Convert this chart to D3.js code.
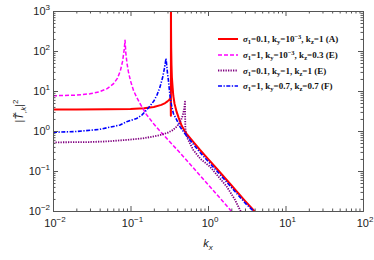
<!DOCTYPE html>
<html><head><meta charset="utf-8">
<script src="https://cdn.jsdelivr.net/npm/d3@7"></script>
<style>body{margin:0;background:#fff}svg{display:block}</style>
</head><body>
<svg id="c" width="374" height="260"></svg>
<script>
// ---- data ----
const xMajorExp = [-2, -1, 0, 1, 2];
const yMajorExp = [-2, -1, 0, 1, 2, 3];
const seriesNames = ["A", "E1", "E2", "F"];
const seriesColors = ["#ff0000", "#ff00ff", "#800080", "#0000ff"];
const legendParts = [
  ["0.1", "10", "−3", "1", "(A)"],
  ["1", "10", "−3", "0.3", "(E)"],
  ["0.1", "1", "", "1", "(E)"],
  ["1", "0.7", "", "0.7", "(F)"]
];
const seriesA = [[0.01,3.45],[0.02,3.45],[0.05,3.5],[0.1,3.55],[0.15,3.7],[0.2,4.0],[0.25,4.5],[0.28,5.0],[0.3,5.5],[0.315,6.0],[0.325,6.5],[0.33,6.8],[0.3318,2.4],[0.3322,2.4],[0.3324,3000],[0.3328,3000],[0.3335,400],[0.335,120],[0.338,45],[0.342,22],[0.35,12],[0.357,7.5],[0.37,4.8],[0.394,3.0],[0.42,2.1],[0.458,1.35],[0.5,1.0],[0.53,0.85],[0.65,0.53],[0.79,0.335],[1.0,0.2],[1.3,0.114],[2.0,0.044],[3.0,0.018],[3.85,0.0106],[5,0.006]];
const seriesE1 = [[0.01,7.6],[0.02,7.9],[0.03,8.5],[0.04,9.6],[0.05,11.5],[0.06,15],[0.068,21],[0.074,32],[0.079,55],[0.083,110],[0.085,185],[0.087,90],[0.09,50],[0.094,30],[0.1,18],[0.11,10],[0.12,7],[0.133,4.8],[0.16,2.6],[0.2,1.5],[0.24,1.0],[0.3,0.62],[0.4,0.34],[0.5,0.21],[0.646,0.12],[0.8,0.075],[1.0,0.046],[1.4,0.022],[1.95,0.0105],[2.5,0.006]];
const seriesE2 = [[0.01,0.52],[0.03,0.53],[0.05,0.55],[0.09,0.6],[0.15,0.66],[0.24,0.79],[0.3,0.9],[0.35,1.05],[0.394,1.28],[0.43,1.6],[0.46,2.1],[0.48,2.8],[0.495,3.8],[0.505,5.4],[0.507,2.5],[0.51,1.2],[0.52,0.85],[0.55,0.62],[0.646,0.335],[0.8,0.2],[1.06,0.129],[1.4,0.068],[1.74,0.041],[2.2,0.02],[2.59,0.0106],[3.2,0.005]];
const seriesF = [[0.01,0.93],[0.02,0.97],[0.033,1.06],[0.04,1.1],[0.0733,1.41],[0.0893,1.71],[0.12,2.05],[0.14,2.5],[0.16,3.3],[0.18,4.3],[0.2,5.6],[0.22,8],[0.24,12.5],[0.26,22],[0.275,38],[0.287,65],[0.293,45],[0.3,28],[0.308,18.8],[0.324,7.2],[0.34,4.2],[0.357,2.77],[0.4,1.8],[0.435,1.28],[0.53,0.75],[0.65,0.46],[0.79,0.29],[1.0,0.175],[1.3,0.1],[2.0,0.039],[3.0,0.016],[3.75,0.0105],[5,0.006]];
const allSeries = [seriesA, seriesE1, seriesE2, seriesF];

// ---- layout ----
const L = 53, R = 363, T = 11, B = 211;
const svg = d3.select("#c");
const x = d3.scaleLog().domain([0.01, 100]).range([L, R]);
const y = d3.scaleLog().domain([0.01, 1000]).range([B, T]);

svg.append("defs").append("clipPath").attr("id", "clip")
  .append("rect").attr("x", L).attr("y", T).attr("width", R - L).attr("height", B - T);

const dashes = [null, "4,2", "1.3,1.2", "4,1.5,1.3,1.5"];
const widths = [2, 1.5, 1.8, 1.6];
const line = d3.line().x(d => x(d[0])).y(d => y(d[1]));
const g = svg.append("g").attr("clip-path", "url(#clip)");
allSeries.forEach((s, i) => {
  g.append("path").datum(s).attr("d", line).attr("fill", "none")
    .attr("stroke", seriesColors[i]).attr("stroke-width", widths[i])
    .attr("stroke-dasharray", dashes[i]).attr("stroke-linejoin", "round");
});

// ---- axes ----
const axisColor = "#555";
const xMajor = xMajorExp.map(e => Math.pow(10, e));
const yMajor = yMajorExp.map(e => Math.pow(10, e));
const xMinor = x.ticks().filter(v => !xMajor.some(m => Math.abs(m - v) / m < 1e-6));
const yMinor = y.ticks().filter(v => !yMajor.some(m => Math.abs(m - v) / m < 1e-6));

function drawAxis(axisGen, transform, major, minor) {
  const a = svg.append("g").attr("transform", transform);
  a.call(axisGen.tickValues(major).tickSizeInner(-5).tickSizeOuter(0).tickFormat(""));
  const b = svg.append("g").attr("transform", transform);
  b.call(axisGen.tickValues(minor).tickSizeInner(-2.5).tickSizeOuter(0).tickFormat(""));
  [a, b].forEach(s => { s.selectAll("path,line").attr("stroke", axisColor); s.select(".domain").attr("stroke-width", 1); });
}
drawAxis(d3.axisBottom(x), `translate(0,${B})`, xMajor, xMinor);
drawAxis(d3.axisTop(x), `translate(0,${T})`, xMajor, xMinor);
drawAxis(d3.axisLeft(y), `translate(${L},0)`, yMajor, yMinor);
drawAxis(d3.axisRight(y), `translate(${R},0)`, yMajor, yMinor);

const fontSans = "'Liberation Sans', Arial, sans-serif";
xMajorExp.forEach(e => {
  const t = svg.append("text").attr("x", x(Math.pow(10, e)) + 2).attr("y", 227)
    .attr("text-anchor", "middle").attr("font-family", fontSans).attr("font-size", 11).attr("fill", "#222");
  t.append("tspan").text("10");
  t.append("tspan").attr("dy", -5).attr("font-size", 8).text(e < 0 ? "−" + (-e) : String(e));
});
yMajorExp.forEach(e => {
  const t = svg.append("text").attr("x", 50).attr("y", y(Math.pow(10, e)) + 4)
    .attr("text-anchor", "end").attr("font-family", fontSans).attr("font-size", 11).attr("fill", "#222");
  t.append("tspan").text("10");
  t.append("tspan").attr("dy", -5).attr("font-size", 8).text(e < 0 ? "−" + (-e) : String(e));
});

// axis titles
const xt = svg.append("text").attr("x", (L + R) / 2).attr("y", 247).attr("text-anchor", "middle")
  .attr("font-family", fontSans).attr("font-size", 11).attr("font-style", "italic").attr("fill", "#222");
xt.append("tspan").text("k");
xt.append("tspan").attr("dy", 3).attr("font-size", 8).text("x");

const yt = svg.append("text").attr("transform", `translate(23,${(T + B) / 2}) rotate(-90)`)
  .attr("text-anchor", "middle").attr("font-family", fontSans).attr("font-size", 11).attr("fill", "#222");
yt.append("tspan").text("|");
yt.append("tspan").attr("font-style", "italic").text("T\u0303");
yt.append("tspan").attr("dy", 3).attr("font-size", 8).attr("font-style", "italic").text(",k");
yt.append("tspan").attr("dy", -3).text("|");
yt.append("tspan").attr("dy", -5).attr("font-size", 8).text("2");

// ---- legend ----
const legY = [39, 55, 70.5, 86];
const fontSerif = "'Liberation Serif', 'Times New Roman', serif";
legendParts.forEach((p, i) => {
  svg.append("line").attr("x1", 218).attr("x2", 238).attr("y1", legY[i]).attr("y2", legY[i])
    .attr("stroke", seriesColors[i]).attr("stroke-width", widths[i]).attr("stroke-dasharray", dashes[i]);
  const t = svg.append("text").attr("x", 243).attr("y", legY[i] + 3)
    .attr("font-family", fontSerif).attr("font-size", 9).attr("font-weight", "bold").attr("fill", "#111");
  t.append("tspan").attr("font-style", "italic").text("σ");
  t.append("tspan").attr("dy", 2).attr("font-size", 6.5).text("1");
  t.append("tspan").attr("dy", -2).text("=" + p[0] + ", k");
  t.append("tspan").attr("dy", 2).attr("font-size", 6.5).text("y");
  t.append("tspan").attr("dy", -2).text("=" + p[1]);
  if (p[2]) {
    t.append("tspan").attr("dy", -3).attr("font-size", 6.5).text(p[2]);
    t.append("tspan").attr("dy", 3).text(", k");
  } else {
    t.append("tspan").text(", k");
  }
  t.append("tspan").attr("dy", 2).attr("font-size", 6.5).text("z");
  t.append("tspan").attr("dy", -2).text("=" + p[3] + " " + p[4]);
});
</script>
</body></html>
